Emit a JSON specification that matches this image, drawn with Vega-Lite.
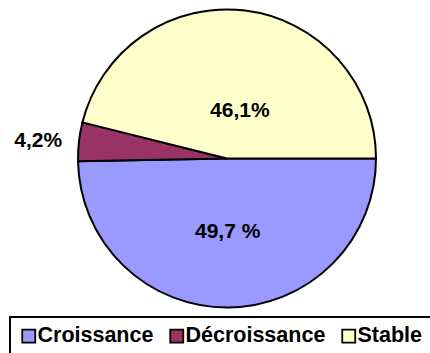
{
  "$schema": "https://vega.github.io/schema/vega-lite/v6.json",
  "width": 406,
  "height": 317,
  "autosize": "none",
  "padding": {"left": 24, "top": 0, "right": 0, "bottom": 36},
  "background": "white",
  "config": {
    "view": {"stroke": null},
    "legend": {
      "orient": "none",
      "legendX": -14,
      "legendY": 317,
      "direction": "horizontal",
      "symbolType": "square",
      "symbolSize": 169,
      "symbolStrokeColor": "black",
      "symbolStrokeWidth": 1.8,
      "symbolOpacity": 1,
      "labelFont": "Liberation Sans",
      "labelFontWeight": "bold",
      "labelFontSize": 21.5,
      "labelColor": "black",
      "labelOffset": -2,
      "labelLimit": 300,
      "columnPadding": 12,
      "padding": 8,
      "strokeColor": "black",
      "strokeWidth": 2
    }
  },
  "data": {
    "values": [
      {"category": "Croissance", "value": 49.7, "label": "49,7 %"},
      {"category": "Décroissance", "value": 4.2, "label": "4,2%"},
      {"category": "Stable", "value": 46.1, "label": "46,1%"}
    ]
  },
  "encoding": {
    "theta": {
      "field": "value",
      "type": "quantitative",
      "stack": true,
      "scale": {"range": [1.5707963, 7.8539816]}
    },
    "order": {"field": "category", "type": "nominal", "sort": "ascending"}
  },
  "layer": [
    {
      "mark": {"type": "arc", "outerRadius": 149, "stroke": "black", "strokeWidth": 2},
      "encoding": {
        "color": {
          "field": "category",
          "type": "nominal",
          "scale": {
            "domain": ["Croissance", "Décroissance", "Stable"],
            "range": ["#9999FF", "#993366", "#FFFFCC"]
          },
          "legend": {"title": null}
        }
      }
    },
    {
      "mark": {"type": "text", "radius": 48, "dx": 7, "font": "Liberation Sans", "fontWeight": "bold", "fontSize": 21, "color": "black", "baseline": "middle", "align": "center"},
      "encoding": {
        "detail": {"field": "category", "type": "nominal"},
        "text": {"condition": {"test": "datum.category === 'Stable'", "field": "label", "type": "nominal"}, "value": ""}
      }
    },
    {
      "mark": {"type": "text", "radius": 73.5, "font": "Liberation Sans", "fontWeight": "bold", "fontSize": 21, "color": "black", "baseline": "middle", "align": "center"},
      "encoding": {
        "detail": {"field": "category", "type": "nominal"},
        "text": {"condition": {"test": "datum.category === 'Croissance'", "field": "label", "type": "nominal"}, "value": ""}
      }
    },
    {
      "mark": {"type": "text", "radius": 190, "dy": 4, "font": "Liberation Sans", "fontWeight": "bold", "fontSize": 21, "color": "black", "baseline": "middle", "align": "center"},
      "encoding": {
        "detail": {"field": "category", "type": "nominal"},
        "text": {"condition": {"test": "datum.category === 'Décroissance'", "field": "label", "type": "nominal"}, "value": ""}
      }
    }
  ]
}
